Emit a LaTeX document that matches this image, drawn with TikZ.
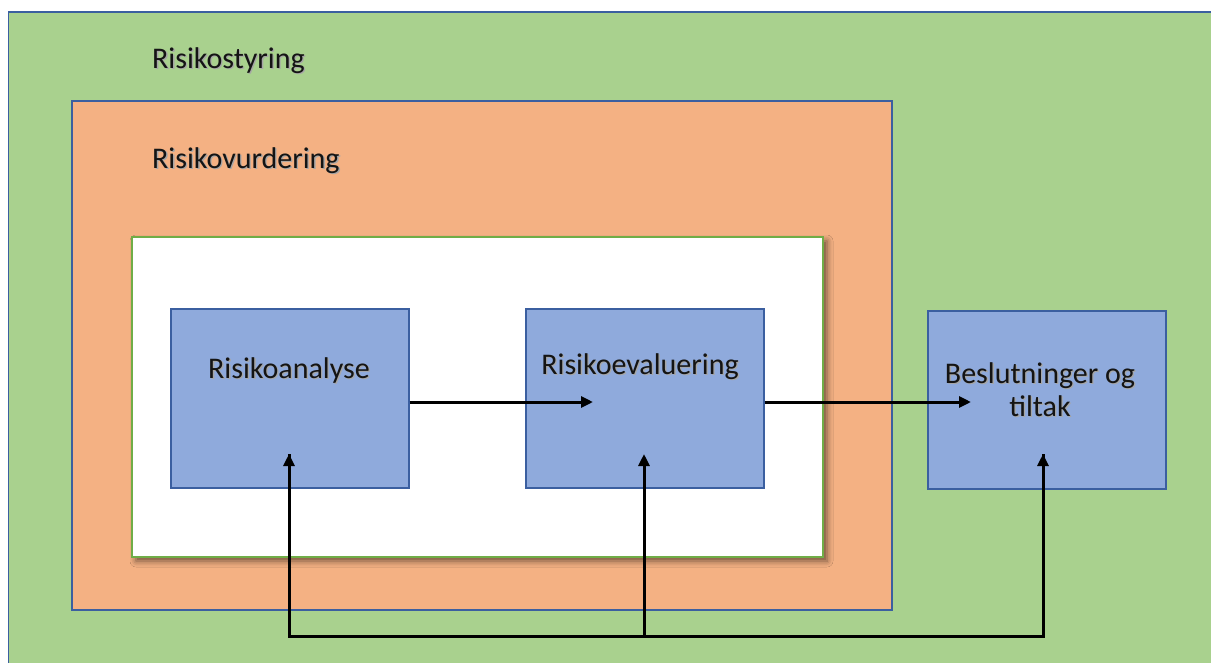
\documentclass[tikz,border=0pt]{standalone}
\usepackage{fontspec}
\setmainfont{Carlito}
\usetikzlibrary{arrows.meta,shadows.blur}

\definecolor{grn}{HTML}{A9D18E}
\definecolor{grnline}{HTML}{70AD47}
\definecolor{org}{HTML}{F4B183}
\definecolor{blu}{HTML}{8FAADC}
\definecolor{bluline}{HTML}{3B5FA0}

% text with a soft drop shadow
\newcommand\shtxt[1]{\makebox[0pt][l]{\hspace{1.3pt}\raisebox{-1.3pt}{\textcolor{black!35}{#1}}}\textcolor{black!92}{#1}}

\tikzset{
  label text/.style={font=\fontsize{30}{35}\selectfont, text=black, inner sep=0pt},
  stepbox/.style={draw=bluline, line width=1.6pt, fill=blu, minimum width=238pt,
                  minimum height=179pt, inner sep=0pt, anchor=north west},
  conn/.style={line width=3pt, black},
  arr/.style={conn, -{Triangle[length=12pt,width=11pt]}},
}

\begin{document}
\begin{tikzpicture}[x=1pt,y=-1pt]
  \useasboundingbox (0,0) rectangle (1211,662);
  \clip (0,0) rectangle (1211,662);
  \fill[white] (0,0) rectangle (1211,662);

  % outer frame: risk management
  \draw[fill=grn, draw=bluline, line width=1.5pt] (8.5,12) rectangle (1230,680);
  \node[label text, anchor=west] (styr) at (152,61) {\shtxt{Risikostyring}};

  % risk assessment
  \draw[fill=org, draw=bluline, line width=1.6pt] (72,101) rectangle (892,610);
  \node[label text, anchor=west] (vurd) at (152,161) {\shtxt{Risikovurdering}};

  % inner panel
  \draw[fill=white, draw=grnline, line width=1.5pt,
        blur shadow={shadow xshift=4pt, shadow yshift=-4pt, shadow blur radius=6pt,
                     shadow opacity=55}]
        (132,237) rectangle (823,557);

  % process steps
  \node[stepbox] (ana) at (170,308) {};
  \node[stepbox] (eva) at (525,308) {};
  \node[stepbox, minimum height=178pt] (bes) at (927,310) {};

  \node[label text] (anaT) at (289,371) {\shtxt{Risikoanalyse}};
  \node[label text] (evaT) at (640,367) {\shtxt{Risikoevaluering}};
  \node[label text, align=center] (besT) at (1040,390)
       {\shtxt{Beslutninger og}\\[-2pt]\shtxt{tiltak}};

  % flow arrows
  \coordinate (evaIn) at (593,402);
  \coordinate (besIn) at (971,402);
  \draw[arr] (ana.east |- evaIn) -- (evaIn);
  \draw[arr] (eva.east |- besIn) -- (besIn);

  % feedback from the bottom line
  \coordinate (anaUp) at (289,454);
  \coordinate (evaUp) at (644,454);
  \coordinate (besUp) at (1043,454);
  \coordinate (busL) at (289,636);
  \coordinate (busM) at (644,636);
  \coordinate (busR) at (1043,636);
  \draw[conn, line join=miter] (anaUp) -- (busL) -- (busR) -- (besUp);
  \draw[arr] (busL) -- (anaUp);
  \draw[arr] (busM) -- (evaUp);
  \draw[arr] (busR) -- (besUp);
\end{tikzpicture}
\end{document}
